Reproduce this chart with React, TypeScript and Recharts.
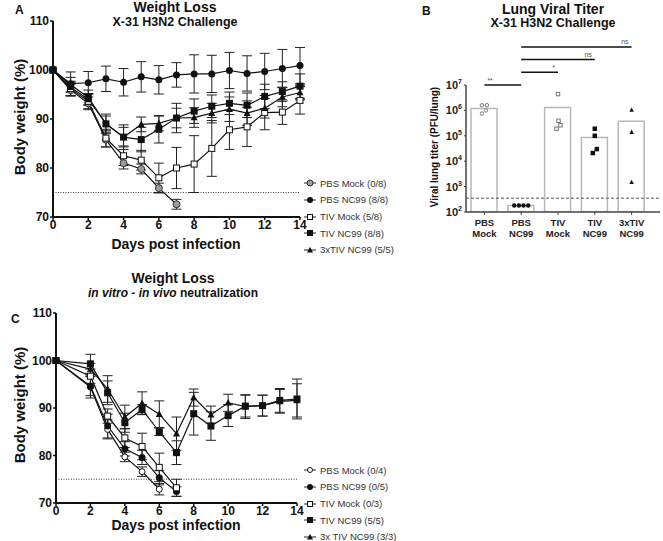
import React from 'react';
import { LineChart, Line, XAxis, YAxis, ErrorBar, ReferenceLine, ComposedChart, Bar, Scatter } from 'recharts';

const FONT = '"Liberation Sans", Arial, Helvetica, sans-serif';

// Panel A - weight loss, X-31 H3N2 challenge (mean, SD)
const DAYS_A = [0, 1, 2, 3, 4, 5, 6, 7, 8, 9, 10, 11, 12, 13, 14];
const A_PBS_MOCK = [100, 95.9, 93.2, 85.8, 81.0, 79.8, 75.9, 72.6];
const A_PBS_MOCK_SD = [0, 1.2, 1.3, 1.5, 1.2, 1.0, 1.0, 1.0];
const A_PBS_NC99 = [100, 97.2, 97.4, 98.2, 97.5, 98.6, 98.0, 99.0, 99.2, 99.2, 99.9, 99.3, 99.7, 100.3, 100.9];
const A_PBS_NC99_SD = [0, 2.4, 2.3, 2.6, 2.8, 3.1, 2.9, 2.5, 3.9, 3.8, 3.7, 3.6, 3.7, 3.9, 3.7];
const A_TIV_MOCK = [100, 96.2, 93.6, 86.1, 82.5, 81.6, 78.0, 80.0, 80.8, 84.0, 87.8, 88.4, 91.3, 91.4, 93.8];
const A_TIV_MOCK_SD = [0, 1.5, 1.5, 1.8, 2.0, 2.0, 3.0, 4.2, 5.8, 5.7, 4.0, 4.0, 3.5, 2.5, 2.8];
const A_TIV_NC99 = [100, 97.0, 94.4, 89.0, 86.3, 85.8, 87.9, 90.2, 91.6, 92.6, 93.2, 92.8, 94.6, 95.6, 96.7];
const A_TIV_NC99_SD = [0, 1.5, 1.5, 2.0, 2.5, 2.5, 2.8, 3.0, 2.5, 2.3, 2.3, 2.5, 2.5, 2.0, 2.5];
const A_3XTIV_NC99 = [100, 96.5, 94.0, 89.1, 86.3, 88.9, 89.1, 90.2, 90.3, 91.2, 92.0, 91.2, 92.2, 94.5, 95.4];
const A_3XTIV_NC99_SD = [0, 1.0, 1.2, 1.5, 2.0, 1.5, 1.5, 2.0, 2.0, 2.0, 2.5, 2.5, 2.0, 2.0, 1.5];

// Panel C - in vitro / in vivo neutralization
const DAYS_C = [0, 2, 3, 4, 5, 6, 7, 8, 9, 10, 11, 12, 13, 14];
const C_PBS_MOCK = [100, 94.4, 85.5, 79.7, 76.6, 72.9];
const C_PBS_MOCK_SD = [0, 2.3, 2.0, 1.0, 1.0, 1.2];
const C_PBS_NC99 = [100, 94.6, 86.2, 81.4, 79.6, 75.3, 72.4];
const C_PBS_NC99_SD = [0, 2.0, 2.5, 1.5, 1.5, 1.5, 1.0];
const C_TIV_MOCK = [100, 96.7, 88.3, 83.7, 81.9, 77.5, 73.2];
const C_TIV_MOCK_SD = [0, 1.5, 1.5, 2.0, 2.8, 3.0, 1.8];
const C_TIV_NC99 = [100, 99.3, 93.2, 86.9, 89.7, 85.0, 80.6, 88.8, 86.2, 88.4, 90.4, 90.5, 91.6, 91.9];
const C_TIV_NC99_SD = [0, 2.0, 2.5, 2.0, 1.0, 0.8, 2.5, 4.5, 3.0, 2.3, 2.3, 2.2, 2.5, 4.2];
const C_3XTIV_NC99 = [100, 98.2, 94.0, 88.1, 91.0, 88.7, 84.6, 92.2, 88.6, 91.1, 90.3, 90.5, 91.4, 91.6];
const C_3XTIV_NC99_SD = [0, 1.2, 2.8, 2.5, 2.4, 2.8, 3.5, 1.8, 1.8, 1.8, 2.5, 2.2, 2.5, 3.5];

const DAY_TICKS = [0, 2, 4, 6, 8, 10, 12, 14];
const WEIGHT_TICKS = [70, 80, 90, 100, 110];
const WEIGHT_CUTOFF = 75;

// Panel B - lung viral titer (PFU/lung)
const GROUPS = ['PBS Mock', 'PBS NC99', 'TIV Mock', 'TIV NC99', '3xTIV NC99'];
const TITER_MEANS = [1.2e6, 180, 1.3e6, 8.6e4, 3.7e5];
const TITER_POINTS = [
  [1.6e6, 1.6e6, 1.0e6, 7.5e5],
  [180, 180, 180, 180],
  [4.4e6, 3.9e5, 2.6e5, 1.9e5],
  [1.9e5, 1.0e5, 3.0e4, 2.1e4],
  [1.05e6, 1.4e5, 1.5e3],
];
const TITER_TICKS = [1e2, 1e3, 1e4, 1e5, 1e6, 1e7];
const DETECTION_LIMIT = 350;
const SIGNIFICANCE = [
  { from: 'PBS Mock', to: 'PBS NC99', level: 1e7, text: '**', side: 'start' },
  { from: 'PBS NC99', to: 'TIV Mock', level: 10 ** 7.5, text: '*', side: 'end' },
  { from: 'PBS NC99', to: 'TIV NC99', level: 1e8, text: 'ns', side: 'end' },
  { from: 'PBS NC99', to: '3xTIV NC99', level: 10 ** 8.5, text: 'ns', side: 'end' },
];

type Shape = 'circleHatch' | 'circleFill' | 'circleOpen' | 'squareOpen' | 'squareFill' | 'triangle';

const SERIES_A = [
  { legend: 'PBS Mock (0/8)', shape: 'circleHatch' as Shape, values: A_PBS_MOCK, sd: A_PBS_MOCK_SD },
  { legend: 'PBS NC99 (8/8)', shape: 'circleFill' as Shape, values: A_PBS_NC99, sd: A_PBS_NC99_SD },
  { legend: 'TIV Mock (5/8)', shape: 'squareOpen' as Shape, values: A_TIV_MOCK, sd: A_TIV_MOCK_SD },
  { legend: 'TIV NC99 (8/8)', shape: 'squareFill' as Shape, values: A_TIV_NC99, sd: A_TIV_NC99_SD },
  { legend: '3xTIV NC99 (5/5)', shape: 'triangle' as Shape, values: A_3XTIV_NC99, sd: A_3XTIV_NC99_SD },
];

const SERIES_C = [
  { legend: 'PBS Mock (0/4)', shape: 'circleOpen' as Shape, values: C_PBS_MOCK, sd: C_PBS_MOCK_SD },
  { legend: 'PBS NC99 (0/5)', shape: 'circleFill' as Shape, values: C_PBS_NC99, sd: C_PBS_NC99_SD },
  { legend: 'TIV Mock (0/3)', shape: 'squareOpen' as Shape, values: C_TIV_MOCK, sd: C_TIV_MOCK_SD },
  { legend: 'TIV NC99 (5/5)', shape: 'squareFill' as Shape, values: C_TIV_NC99, sd: C_TIV_NC99_SD },
  { legend: '3x TIV NC99 (3/3)', shape: 'triangle' as Shape, values: C_3XTIV_NC99, sd: C_3XTIV_NC99_SD },
];

const GROUP_SHAPES: Shape[] = ['circleOpen', 'circleFill', 'squareOpen', 'squareFill', 'triangle'];
// horizontal scatter of the dots inside each column, px
const JITTER = [[-2.5, 2.5, 1.5, -2.5], [-7, -2.3, 2.3, 7], [0, 0.5, 2.5, -1.5], [0, 0, 2, -2], [0, 0, 0]];

function Marker({ shape, cx, cy, size = 7, color = '#111' }: { shape: Shape; cx: number; cy: number; size?: number; color?: string }) {
  const h = size / 2;
  switch (shape) {
    case 'circleHatch':
      return <circle cx={cx} cy={cy} r={h} fill="#9c9c9c" stroke="#333" strokeWidth={1} />;
    case 'circleFill':
      return <circle cx={cx} cy={cy} r={h} fill={color} />;
    case 'circleOpen':
      return <circle cx={cx} cy={cy} r={h - 0.5} fill="#fff" stroke={color} strokeWidth={1} />;
    case 'squareOpen':
      return <rect x={cx - h + 0.5} y={cy - h + 0.5} width={size - 1} height={size - 1} fill="#fff" stroke={color} strokeWidth={1} />;
    case 'squareFill':
      return <rect x={cx - h} y={cy - h} width={size} height={size} fill={color} />;
    default:
      return <polygon points={`${cx},${cy - h * 1.1} ${cx + h},${cy + h * 0.8} ${cx - h},${cy + h * 0.8}`} fill={color} />;
  }
}

const rowsOf = (days: number[], values: number[], sd: number[]) =>
  values.map((v, i) => ({ day: days[i], value: v, sd: sd[i] }));

const axisTick = { fill: '#111', fontSize: 12, fontWeight: 'bold', fontFamily: FONT };

function WeightChart({ series, days, width, height, margin }: any) {
  return (
    <LineChart width={width} height={height} margin={margin}>
      <XAxis
        type="number"
        dataKey="day"
        domain={[0, 14]}
        ticks={DAY_TICKS}
        height={30}
        tick={axisTick}
        tickSize={3}
        tickMargin={0}
        axisLine={{ stroke: '#111', strokeWidth: 2 }}
        tickLine={{ stroke: '#111', strokeWidth: 1.5 }}
      />
      <YAxis
        type="number"
        domain={[70, 110]}
        ticks={WEIGHT_TICKS}
        width={40}
        tick={axisTick}
        tickSize={3}
        tickMargin={1}
        axisLine={{ stroke: '#111', strokeWidth: 2 }}
        tickLine={{ stroke: '#111', strokeWidth: 1.5 }}
      />
      <ReferenceLine y={WEIGHT_CUTOFF} stroke="#444" strokeDasharray="1 1.5" strokeWidth={1} />
      {series.map((s: any) => (
        <Line
          key={s.legend}
          data={rowsOf(days, s.values, s.sd)}
          dataKey="value"
          name={s.legend}
          stroke="#111"
          strokeWidth={1.2}
          isAnimationActive={false}
          dot={(p: any) => <Marker key={`${s.legend}-${p.index}`} shape={s.shape} cx={p.cx} cy={p.cy} />}
          activeDot={false}
        >
          <ErrorBar dataKey="sd" width={5} stroke="#222" strokeWidth={1} direction="y" isAnimationActive={false} />
        </Line>
      ))}
    </LineChart>
  );
}

function SeriesLegend({ series, left, top, gap }: any) {
  return (
    <div style={{ position: 'absolute', left, top, fontFamily: FONT, fontSize: 9.5, color: '#333', lineHeight: 1 }}>
      {series.map((s: any) => (
        <div key={s.legend} style={{ height: gap, display: 'flex', alignItems: 'center', whiteSpace: 'nowrap' }}>
          <svg width={14} height={10} style={{ display: 'block' }}>
            <line x1={1} x2={13} y1={5} y2={5} stroke="#222" strokeWidth={1} />
            <Marker shape={s.shape} cx={7} cy={5} size={6} />
          </svg>
          <span style={{ marginLeft: 3 }}>{s.legend}</span>
        </div>
      ))}
    </div>
  );
}

function GroupTick({ x, y, payload }: any) {
  const words = String(payload.value).split(' ');
  return (
    <text x={x} y={y} textAnchor="middle" fontFamily={FONT} fontWeight="bold" fontSize={9.5} fill="#222">
      {words.map((w, i) => (
        <tspan key={i} x={x} dy={i === 0 ? 9 : 11}>{w}</tspan>
      ))}
    </text>
  );
}

function PowerTick({ x, y, payload }: any) {
  const e = Math.round(Math.log10(payload.value));
  return (
    <text x={x} y={y} dy={4} textAnchor="end" fontFamily={FONT} fontWeight="bold" fontSize={11} fill="#222">
      10<tspan dy={-5} fontSize={7}>{e}</tspan>
    </text>
  );
}

function SigLabel({ viewBox, text, side }: any) {
  if (!viewBox) return null;
  const { x, y, width } = viewBox;
  const tx = side === 'end' ? x + width - 3 : x + 3;
  return (
    <text x={tx} y={y - 2.5} textAnchor={side === 'end' ? 'end' : 'start'} fontFamily={FONT} fontSize={7} fill="#555">
      {text}
    </text>
  );
}

function TiterChart() {
  const data = GROUPS.map((name, i) => {
    const row: Record<string, any> = { name, mean: TITER_MEANS[i] };
    TITER_POINTS[i].forEach((v, k) => {
      row[`p${k}`] = v;
    });
    return row;
  });
  const maxPoints = Math.max(...TITER_POINTS.map((p) => p.length));
  return (
    <ComposedChart width={243} height={262} data={data} margin={{ top: 85, right: 3, bottom: 15, left: 8 }}>
      <XAxis
        dataKey="name"
        type="category"
        interval={0}
        padding={{ left: 0, right: 10 }}
        height={35}
        tick={<GroupTick />}
        tickSize={3}
        axisLine={{ stroke: '#444', strokeWidth: 1.5 }}
        tickLine={{ stroke: '#444', strokeWidth: 1 }}
      />
      <YAxis
        type="number"
        scale="log"
        domain={[100, 1e7]}
        ticks={TITER_TICKS}
        allowDataOverflow
        width={38}
        tick={<PowerTick />}
        tickSize={2}
        tickMargin={2}
        axisLine={{ stroke: '#444', strokeWidth: 1.5 }}
        tickLine={{ stroke: '#444', strokeWidth: 1 }}
      />
      <Bar dataKey="mean" barSize={26} fill="#fff" stroke="#b8b8b8" strokeWidth={1.5} isAnimationActive={false} />
      <ReferenceLine y={DETECTION_LIMIT} stroke="#555" strokeDasharray="3 2" strokeWidth={1} />
      {Array.from({ length: maxPoints }, (_, k) => (
        <Scatter
          key={k}
          dataKey={`p${k}`}
          isAnimationActive={false}
          shape={(p: any) => {
            const g = GROUPS.indexOf(p.payload?.name);
            if (g < 0 || p.payload[`p${k}`] == null || p.cy == null) return <g />;
            const shape = GROUP_SHAPES[g];
            const open = shape === 'circleOpen' || shape === 'squareOpen';
            return <Marker shape={shape} cx={p.cx + JITTER[g][k]} cy={p.cy} size={4.5} color={open ? '#777' : '#111'} />;
          }}
        />
      ))}
      {SIGNIFICANCE.map((s, i) => (
        <ReferenceLine
          key={i}
          segment={[{ x: s.from, y: s.level }, { x: s.to, y: s.level }]}
          ifOverflow="visible"
          stroke="#111"
          strokeWidth={1.5}
          label={<SigLabel text={s.text} side={s.side} />}
        />
      ))}
    </ComposedChart>
  );
}

export default function App() {
  const bold = { fontFamily: FONT, fontWeight: 'bold' as const, fill: '#111' };
  return (
    <div style={{ position: 'absolute', left: 0, top: 0, width: 663, height: 541, background: '#fff', overflow: 'hidden' }}>
      <div style={{ position: 'absolute', left: 0, top: 0 }}>
        <WeightChart series={SERIES_A} days={DAYS_A} width={340} height={262} margin={{ top: 21, right: 40, bottom: 15, left: 13 }} />
      </div>
      <div style={{ position: 'absolute', left: 420, top: 0 }}>
        <TiterChart />
      </div>
      <div style={{ position: 'absolute', left: 0, top: 260 }}>
        <WeightChart series={SERIES_C} days={DAYS_C} width={340} height={281} margin={{ top: 53, right: 43, bottom: 8, left: 16 }} />
      </div>
      <SeriesLegend series={SERIES_A} left={303} top={175} gap={16.7} />
      <SeriesLegend series={SERIES_C} left={303} top={462} gap={16.7} />
      <svg width={663} height={541} style={{ position: 'absolute', left: 0, top: 0, pointerEvents: 'none' }}>
        <text x={15} y={13.5} fontSize={12} {...bold}>A</text>
        <text x={175} y={12} textAnchor="middle" fontSize={14} {...bold}>Weight Loss</text>
        <text x={175} y={26} textAnchor="middle" fontSize={12.5} {...bold}>X-31 H3N2 Challenge</text>
        <text transform="translate(25,117) rotate(-90)" textAnchor="middle" fontSize={15} {...bold}>Body weight (%)</text>
        <text x={176} y={249} textAnchor="middle" fontSize={14} {...bold}>Days post infection</text>

        <text x={422} y={15} fontSize={12} {...bold}>B</text>
        <text x={553} y={14} textAnchor="middle" fontSize={14} {...bold}>Lung Viral Titer</text>
        <text x={553} y={27} textAnchor="middle" fontSize={12.5} {...bold}>X-31 H3N2 Challenge</text>
        <text transform="translate(437.5,147) rotate(-90)" textAnchor="middle" fontSize={10} {...bold}>Viral lung titer (PFU/lung)</text>

        <text x={11} y={322.5} fontSize={12} {...bold}>C</text>
        <text x={173} y={283} textAnchor="middle" fontSize={14} {...bold}>Weight Loss</text>
        <text x={173} y={296.5} textAnchor="middle" fontSize={12} {...bold}>
          <tspan fontStyle="italic">in vitro - in vivo</tspan> neutralization
        </text>
        <text transform="translate(25,405) rotate(-90)" textAnchor="middle" fontSize={15} {...bold}>Body weight (%)</text>
        <text x={176} y={530} textAnchor="middle" fontSize={14} {...bold}>Days post infection</text>
      </svg>
    </div>
  );
}
